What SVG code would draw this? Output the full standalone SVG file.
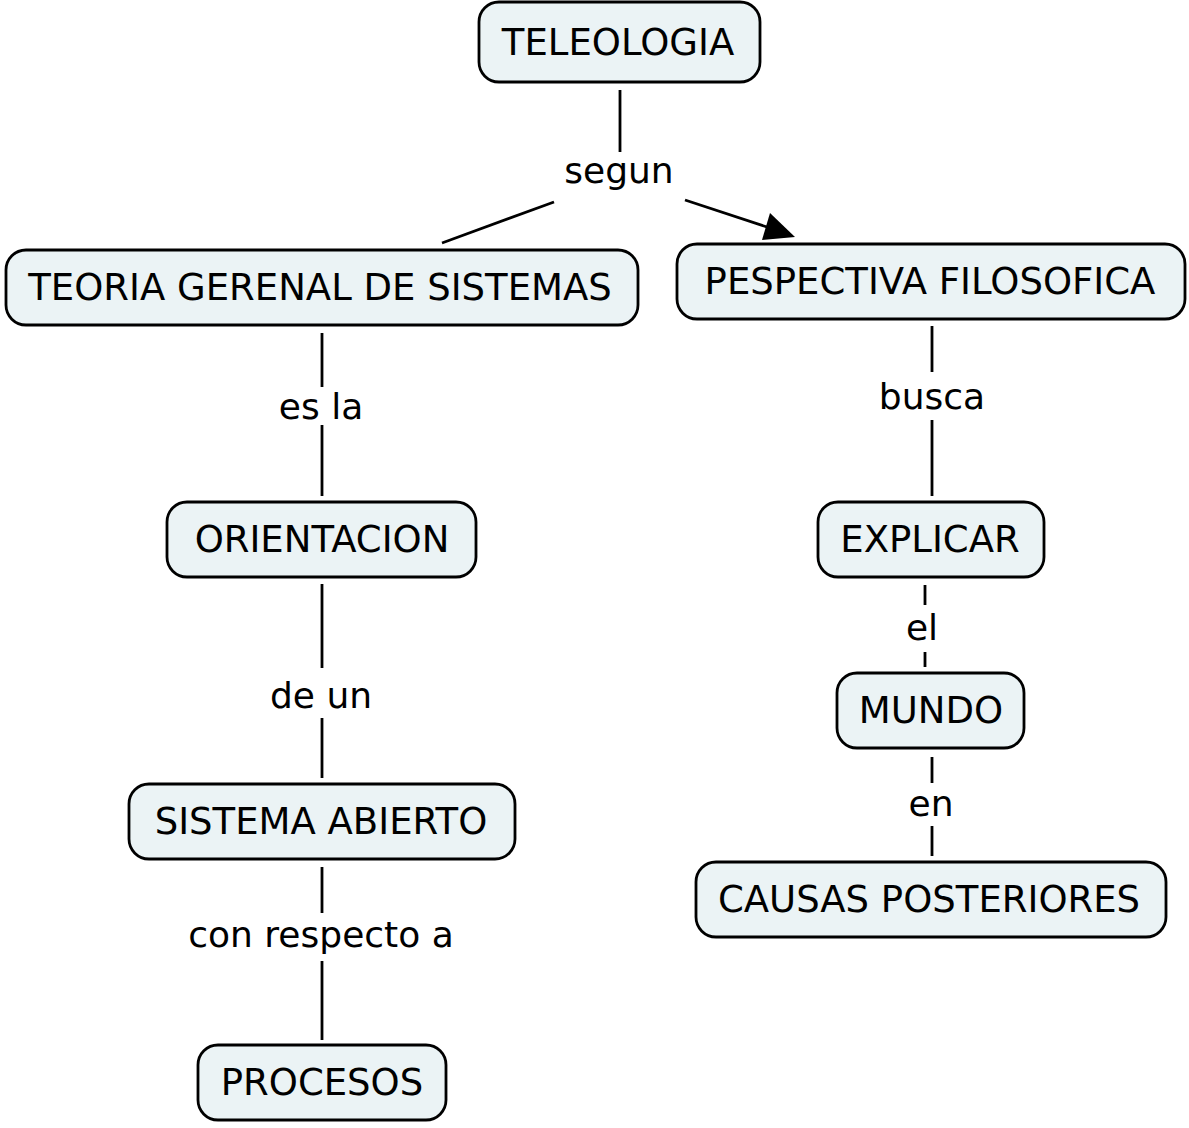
<svg xmlns="http://www.w3.org/2000/svg" width="1189" height="1128" viewBox="0 0 1189 1128">
<style>
.node rect{fill:#ebf3f5;stroke:#000;stroke-width:2.8}
text{font-family:"DejaVu Sans",Verdana,sans-serif;font-size:37px;fill:#000;text-anchor:middle;dominant-baseline:central}
#labels text{font-size:36px}
.conn line{stroke:#000;stroke-width:2.8}
</style>
<rect width="1189" height="1128" fill="#fff"/>
<g id="connectors" class="conn">
<line x1="620" y1="90" x2="620" y2="152"/>
<line x1="554" y1="202" x2="442" y2="243"/>
<line x1="685" y1="200" x2="770" y2="228"/>
<path d="M795,237 L770,213 L762,240 Z" fill="#000"/>
<line x1="322" y1="333" x2="322" y2="387"/>
<line x1="322" y1="425" x2="322" y2="496"/>
<line x1="322" y1="584" x2="322" y2="668"/>
<line x1="322" y1="718" x2="322" y2="778"/>
<line x1="322" y1="867" x2="322" y2="913"/>
<line x1="322" y1="961" x2="322" y2="1040"/>
<line x1="932" y1="326" x2="932" y2="372"/>
<line x1="932" y1="420" x2="932" y2="496"/>
<line x1="925" y1="585" x2="925" y2="605"/>
<line x1="925" y1="652" x2="925" y2="667"/>
<line x1="932" y1="757" x2="932" y2="783"/>
<line x1="932" y1="826" x2="932" y2="856"/>
</g>
<g id="labels">
<text x="619" y="170">segun</text>
<text x="321" y="406">es la</text>
<text x="321" y="695">de un</text>
<text x="321" y="934">con respecto a</text>
<text x="932" y="396">busca</text>
<text x="922" y="627">el</text>
<text x="931" y="803">en</text>
</g>
<g id="n-teleologia" class="node"><rect x="479" y="2" width="281" height="80" rx="20"/><text x="618" y="42">TELEOLOGIA</text></g>
<g id="n-teoria" class="node"><rect x="6" y="250" width="632" height="75" rx="20"/><text x="320" y="287">TEORIA GERENAL DE SISTEMAS</text></g>
<g id="n-pespectiva" class="node"><rect x="677" y="244" width="508" height="75" rx="20"/><text x="930" y="281">PESPECTIVA FILOSOFICA</text></g>
<g id="n-orientacion" class="node"><rect x="167" y="502" width="309" height="75" rx="20"/><text x="322" y="539">ORIENTACION</text></g>
<g id="n-explicar" class="node"><rect x="818" y="502" width="226" height="75" rx="20"/><text x="930" y="539">EXPLICAR</text></g>
<g id="n-mundo" class="node"><rect x="837" y="673" width="187" height="75" rx="20"/><text x="931" y="710">MUNDO</text></g>
<g id="n-sistema" class="node"><rect x="129" y="784" width="386" height="75" rx="20"/><text x="321" y="821">SISTEMA ABIERTO</text></g>
<g id="n-causas" class="node"><rect x="696" y="862" width="470" height="75" rx="20"/><text x="929" y="899">CAUSAS POSTERIORES</text></g>
<g id="n-procesos" class="node"><rect x="198" y="1045" width="248" height="75" rx="20"/><text x="322" y="1082">PROCESOS</text></g>
</svg>
